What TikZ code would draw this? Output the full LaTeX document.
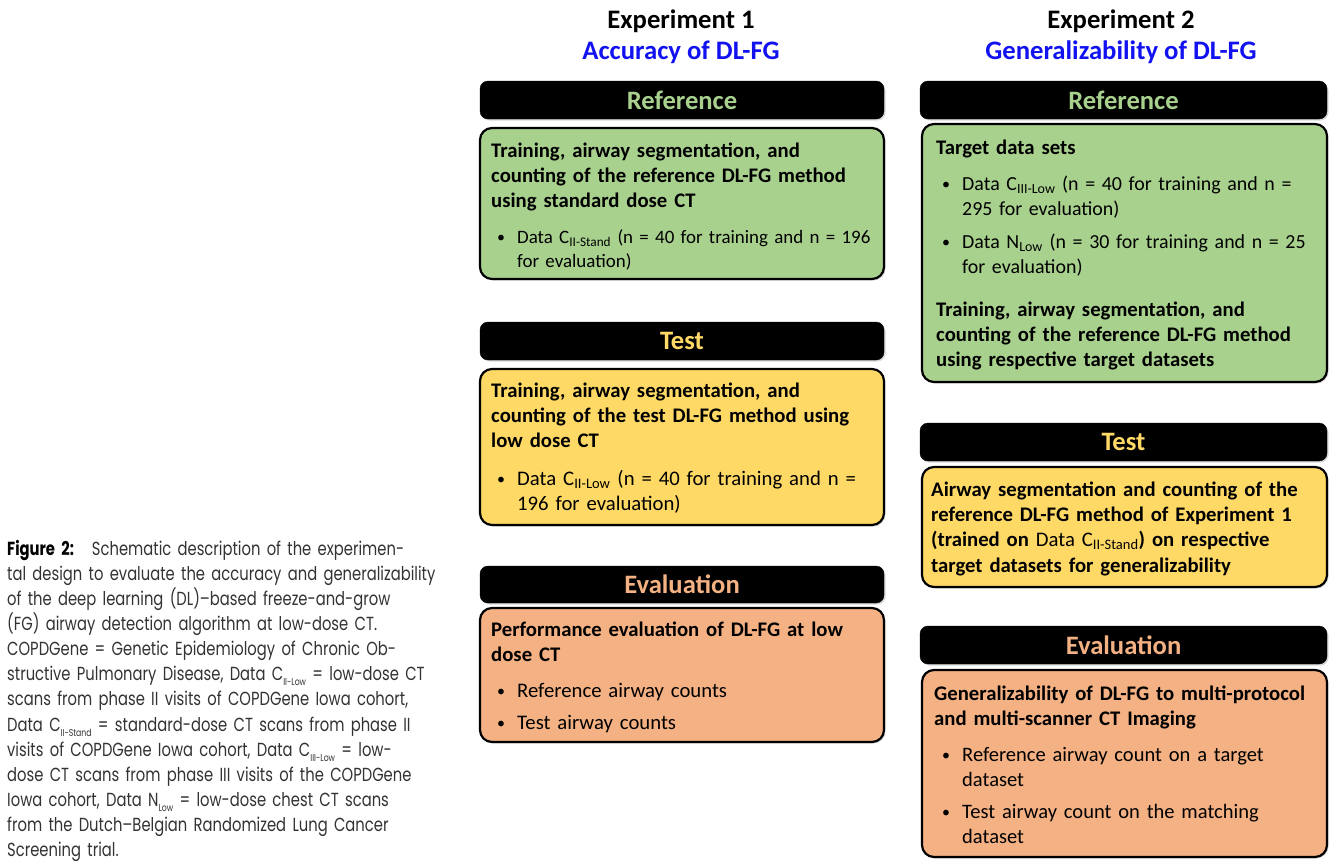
\documentclass[tikz,border=0pt]{standalone}
\usepackage{fontspec}
\setmainfont{Carlito}
\newfontfamily\capfont[FakeStretch=0.78]{Poppins}
\usetikzlibrary{shadows}
\definecolor{gfill}{HTML}{A9D18E}
\definecolor{yfill}{HTML}{FFD966}
\definecolor{ofill}{HTML}{F4B183}
\definecolor{tblue}{HTML}{1212F0}
\definecolor{capgray}{HTML}{333333}
\newcommand{\sbs}[1]{\textsubscript{#1}}
\newcommand{\csub}[1]{\raisebox{-5bp}{\fontsize{10}{10}\selectfont #1}}
\newcommand{\bul}{\hspace*{6bp}\makebox[20bp][l]{\raisebox{0.5bp}{\fontsize{16}{16}\selectfont\textbullet}}}
\newcommand{\ind}{\hspace*{26bp}}
\begin{document}
\begin{tikzpicture}[x=1bp,y=-1bp,
  shd/.style={drop shadow={opacity=0.3,shadow xshift=1.5bp,shadow yshift=-1.5bp}},
  hdr/.style={shd,fill=black,draw=black,rounded corners=8bp,minimum height=38bp,inner sep=0pt,font=\fontsize{26.7}{30}\selectfont\bfseries},
  card/.style={shd,draw=black,line width=2.2bp,rounded corners=12bp,inner sep=0pt},
  txtb/.style={anchor=base west,inner sep=0pt,text width=400bp,align=left,font=\fontsize{20.8}{25.5}\selectfont\bfseries},
  txtr/.style={anchor=base west,inner sep=0pt,text width=400bp,align=left,font=\fontsize{20.6}{25.5}\selectfont},
  ttl/.style={anchor=base,inner sep=0pt,font=\fontsize{26.8}{30}\selectfont\bfseries}]
\useasboundingbox (0,0) rectangle (1330,865);

% titles
\node[ttl] (e1) at (681,28) {Experiment 1};
\node[ttl,text=tblue] (e1s) at (681,59) {Accuracy of DL-FG};
\node[ttl] (e2) at (1121,28) {Experiment 2};
\node[ttl,text=tblue] (e2s) at (1121,59) {Generalizability of DL-FG};

% left column
\node[hdr,minimum width=404bp,text=gfill] (h1) at (682,100) {Reference};
\node[card,fill=gfill,minimum width=404bp,minimum height=151bp] (b1) at (682,203.5) {};
\node[hdr,minimum width=404bp,text=yfill] (h2) at (682,341) {Test};
\node[card,fill=yfill,minimum width=404bp,minimum height=156bp] (b2) at (682,447) {};
\node[hdr,minimum width=404bp,minimum height=37bp,text=ofill] (h3) at (682,584.5) {Evaluation};
\node[card,fill=ofill,minimum width=404bp,minimum height=134bp] (b3) at (682,675) {};

\node[txtb] (t1a) at (491,157) {Training, airway segmentation, and\\counting of the reference DL-FG method\\using standard dose CT};
\node[txtr,font=\fontsize{19}{24.5}\selectfont] (t1b) at (491,243) {\bul Data C\sbs{II-Stand} (n = 40 for training and n = 196\\\ind for evaluation)};

\node[txtb] (t2a) at (491,397) {Training, airway segmentation, and\\counting of the test DL-FG method using\\low dose CT};
\node[txtr,font=\fontsize{20.8}{26}\selectfont] (t2b) at (491,485) {\bul Data C\sbs{II-Low} (n = 40 for training and n =\\\ind 196 for evaluation)};

\node[txtb] (t3a) at (491,636) {Performance evaluation of DL-FG at low\\dose CT};
\node[txtr,font=\fontsize{20.8}{25.5}\selectfont] (t3b) at (491,697) {\bul Reference airway counts};
\node[txtr,font=\fontsize{20.8}{25.5}\selectfont] (t3c) at (491,729) {\bul Test airway counts};

% right column
\node[hdr,minimum width=407bp,text=gfill] (rh1) at (1123.5,100) {Reference};
\node[card,fill=gfill,minimum width=405bp,minimum height=258bp] (rb1) at (1124.5,253) {};
\node[hdr,minimum width=407bp,text=yfill] (rh2) at (1123.5,442) {Test};
\node[card,fill=yfill,minimum width=405bp,minimum height=120bp] (rb2) at (1124.5,527) {};
\node[hdr,minimum width=407bp,text=ofill] (rh3) at (1123.5,645) {Evaluation};
\node[card,fill=ofill,minimum width=405bp,minimum height=187bp] (rb3) at (1124.5,763.5) {};

\node[txtb] (r1a) at (936,154) {Target data sets};
\node[txtr,font=\fontsize{20}{25.5}\selectfont] (r1b) at (936,190) {\bul Data C\sbs{III-Low} (n = 40 for training and n =\\\ind 295 for evaluation)};
\node[txtr,font=\fontsize{20}{25.5}\selectfont] (r1c) at (936,248) {\bul Data N\sbs{Low} (n = 30 for training and n = 25\\\ind for evaluation)};
\node[txtb] (r1d) at (936,316) {Training, airway segmentation, and\\counting of the reference DL-FG method\\using respective target datasets};

\node[txtb] (r2a) at (931,496) {Airway segmentation and counting of the\\reference DL-FG method of Experiment 1\\(trained on \mdseries Data C\sbs{II-Stand}\bfseries) on respective\\target datasets for generalizability};

\node[txtb] (r3a) at (934,700) {Generalizability of DL-FG to multi-protocol\\and multi-scanner CT Imaging};
\node[txtr] (r3b) at (936,761) {\bul Reference airway count on a target\\\ind dataset};
\node[txtr] (r3c) at (936,818) {\bul Test airway count on the matching\\\ind dataset};

% caption
\node[anchor=base west,inner sep=0pt,text width=450bp,align=left,text=capgray,font=\capfont\fontsize{19}{25.25}\selectfont] (cap) at (7,555) {%
{\color{black}\textbf{Figure 2:}}\hspace{18bp}Schematic description of the experimen-\\
tal design to evaluate the accuracy and generalizability\\
of the deep learning (DL)–based freeze-and-grow\\
(FG) airway detection algorithm at low-dose CT.\\
COPDGene = Genetic Epidemiology of Chronic Ob-\\
structive Pulmonary Disease, Data C\csub{II-Low} = low-dose CT\\
scans from phase II visits of COPDGene Iowa cohort,\\
Data C\csub{II-Stand} = standard-dose CT scans from phase II\\
visits of COPDGene Iowa cohort, Data C\csub{III-Low} = low-\\
dose CT scans from phase III visits of the COPDGene\\
Iowa cohort, Data N\csub{Low} = low-dose chest CT scans\\
from the Dutch–Belgian Randomized Lung Cancer\\
Screening trial.};
\end{tikzpicture}
\end{document}
